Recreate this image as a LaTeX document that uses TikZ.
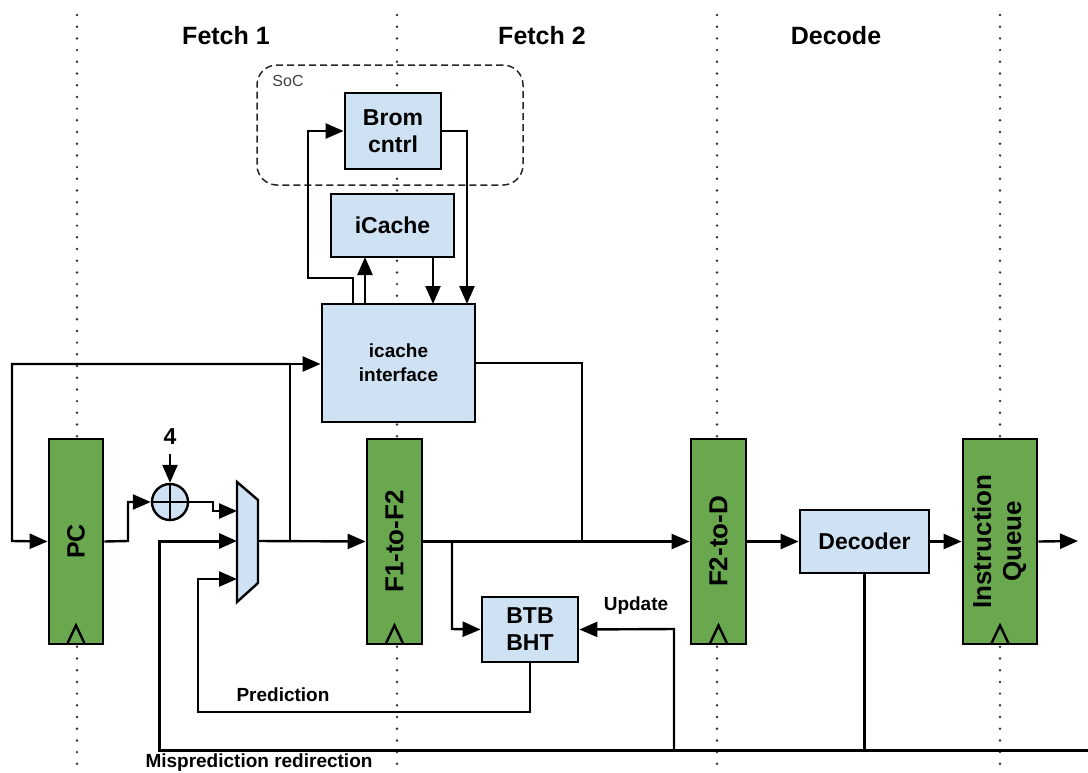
\documentclass[tikz,border=0pt]{standalone}
\usepackage{fontspec}
\setmainfont{Liberation Sans}
\usetikzlibrary{arrows.meta,calc}
\definecolor{regfill}{HTML}{6AA84F}
\definecolor{unitfill}{HTML}{CFE2F3}
\begin{document}
\begin{tikzpicture}[x=1pt,y=-1pt,
  wire/.style={line width=2.4pt},
  conn/.style={wire, -{Triangle[length=18pt,width=15pt]}},
  stageline/.style={draw=black!80, line width=2.7pt, dash pattern=on 0pt off 11.7pt, line cap=round},
  reg/.style={draw, line width=2.8pt, fill=regfill, minimum height=205pt, inner sep=0pt,
    font=\bfseries\fontsize{26}{31}\selectfont},
  unit/.style={draw, line width=2.8pt, fill=unitfill, inner sep=0pt, align=center,
    font=\bfseries\fontsize{23}{27}\selectfont},
  lbl/.style={font=\bfseries\fontsize{19}{22}\selectfont, inner sep=0pt},
  title/.style={font=\bfseries\fontsize{25}{30}\selectfont, inner sep=0pt},
  clk/.style={line width=2.4pt}
]
\useasboundingbox (0,0) rectangle (1088,772);
\fill[white] (0,0) rectangle (1088,772);

% pipeline stage boundaries
\foreach \sx in {77,397,717,1000}
  \draw[stageline] (\sx,15) -- (\sx,772);

% stage titles
\node[title] (t1) at (226,36) {Fetch 1};
\node[title] (t2) at (542,36) {Fetch 2};
\node[title] (t3) at (836,36) {Decode};

% SoC frame
\node[draw=black!85, line width=1.5pt, dash pattern=on 7pt off 4pt, rounded corners=20pt,
  minimum width=266pt, minimum height=120pt] (soc) at (390,125) {};
\node[font=\fontsize{16}{18}\selectfont, text=black!75, inner sep=0pt] (soclbl) at (288,81) {SoC};

% pipeline registers
\node[reg, minimum width=54pt, font=\bfseries\fontsize{25}{30}\selectfont] (pc) at (76,541.5) {\rotatebox{90}{PC}};
\node[reg, minimum width=55pt] (f1f2) at (394.5,541.5) {\rotatebox{90}{F1-to-F2}};
\node[reg, minimum width=55pt] (f2d) at (718.5,541.5) {\rotatebox{90}{F2-to-D}};
\node[reg, minimum width=74pt] (iq) at (1000,541.5)
  {\rotatebox{90}{\begin{tabular}{@{}c@{}}Instruction\\[-1pt]Queue\end{tabular}}};

% clock markers
\foreach \r in {pc,f1f2,f2d,iq}
  \draw[clk] ($(\r.south)+(-9,-1)$) -- ++(9,-19) -- ++(9,19);

% functional units
\node[unit, minimum width=153pt, minimum height=118pt,
  font=\bfseries\fontsize{19}{24}\selectfont] (ici) at (398.5,363) {icache\\interface};
\node[unit, minimum width=123pt, minimum height=63pt] (icache) at (392.5,225.5) {iCache};
\node[unit, minimum width=96pt, minimum height=76pt] (brom) at (393,131) {Brom\\cntrl};
\node[unit, minimum width=129pt, minimum height=63pt] (dec) at (864.5,541.5) {Decoder};
\node[unit, minimum width=96pt, minimum height=65pt] (btb) at (530,629.5) {BTB\\BHT};

% next-PC adder
\node[circle, draw, line width=2.4pt, fill=unitfill, minimum size=36pt, inner sep=0pt] (add) at (170,502) {};
\draw[wire] (add.north) -- (add.south) (add.west) -- (add.east);
\node[title, font=\bfseries\fontsize{23}{26}\selectfont] (four) at (170,437) {4};

% next-PC multiplexer
\draw[line width=2.4pt, fill=unitfill] (237,482) -- (258,500) -- (258,583) -- (237,602) -- cycle;
\coordinate (muxa) at (237,511);
\coordinate (muxb) at (237,541);
\coordinate (muxc) at (237,579);
\coordinate (muxo) at (258,541);

% fetch 1 datapath
\draw[conn] (pc.east) -- (128,541) -- (128,502) -- (add.west);
\draw[conn] (four.south) ++(0,9) -- (add.north);
\draw[conn] (add.east) -- (213,502) -- (213,511) -- (muxa);
\draw[conn] (muxo) -- (f1f2.west);
\coordinate (jn) at (290,541);
\coordinate (jt) at (290,364);
\draw[conn] (jn) -- (jt) -- (jt -| ici.west);
\draw[conn] (jt) -- (12,364) -- (12,541) -- (pc.west);

% icache interface, icache and boot ROM
\draw[conn] (353,304) -- (353,278) -- (308,278) -- (308,131) -- (brom.west);
\draw[conn] (365,304) -- (365,257);
\draw[conn] (433,257) -- (433,304);
\draw[conn] (brom.east) -- (467,131) -- (467,304);
\draw[wire] (ici.east) -- (582,363) -- (582,541);

% fetch 2 / decode datapath
\draw[conn] (f1f2.east) -- (f2d.west);
\draw[conn] (452,541) -- (452,629) -- (btb.west);
\draw[conn] (f2d.east) -- (dec.west);
\draw[conn] (dec.east) -- (iq.west);
\coordinate (qout) at (1078,541);
\draw[conn] (iq.east) -- (qout);

% branch prediction path
\draw[conn] (btb.south) -- (530,712) -- (198,712) -- (198,579) -- (muxc);
\node[lbl] (predlbl) at (283,695) {Prediction};

% misprediction redirection path
\coordinate (redir) at (1088,750);
\draw[conn, line width=3pt] (redir) -- (159,750) -- (159,541) -- (muxb);
\draw[wire] (dec.south) -- (dec.south |- redir);
\draw[conn] (674,750) -- (674,629) -- (btb.east);
\node[lbl] (updlbl) at (636,606) {Update};
\node[lbl] (mislbl) at (259,763) {Misprediction redirection};
\end{tikzpicture}
\end{document}
